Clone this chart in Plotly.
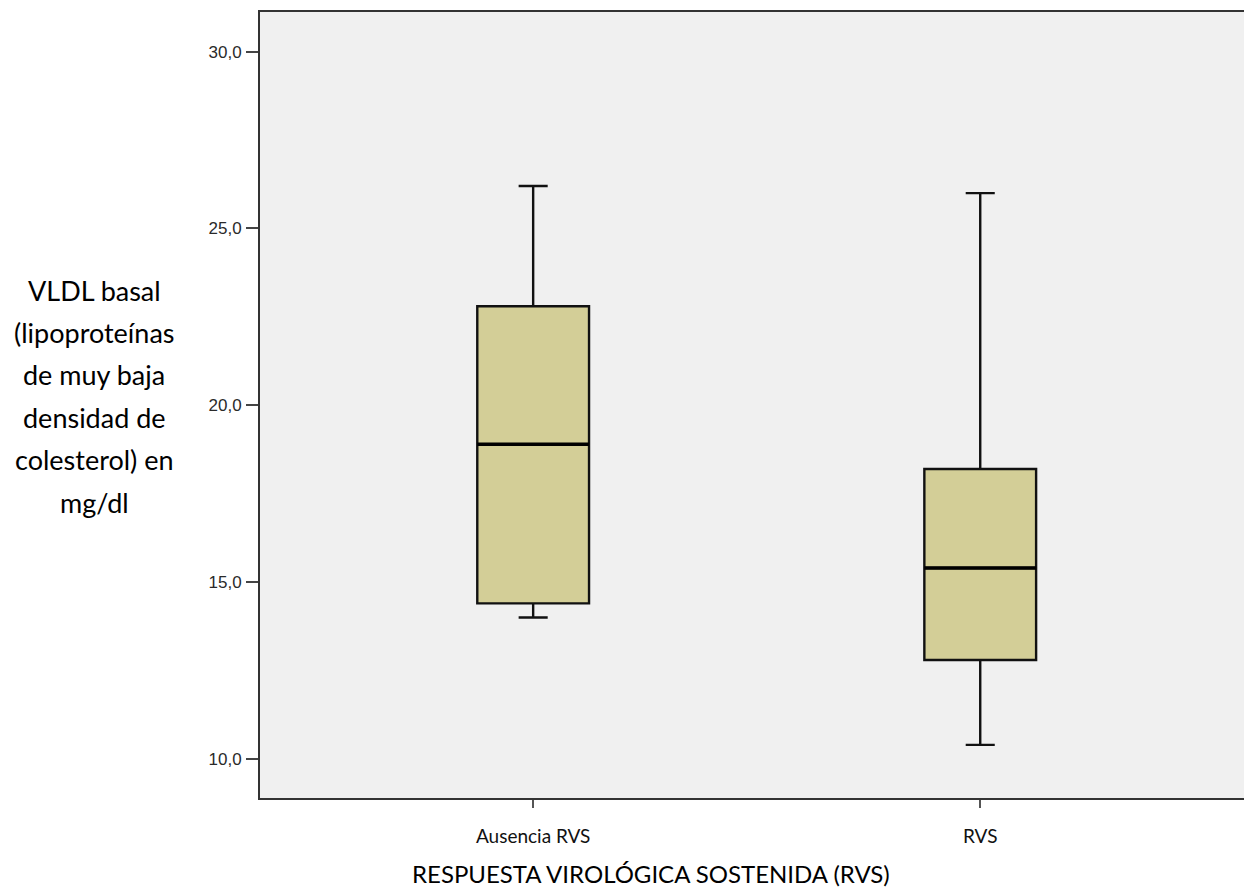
import plotly.graph_objects as go

categories = ["Ausencia RVS", "RVS"]
lowerfence = [14.0, 10.4]
q1 = [14.4, 12.8]
median = [18.9, 15.4]
q3 = [22.8, 18.2]
upperfence = [26.2, 26.0]
y_ticks = [10, 15, 20, 25, 30]
y_title_lines = ["VLDL basal", "(lipoproteínas", "de muy baja", "densidad de", "colesterol) en", "mg/dl"]
x_title = "RESPUESTA VIROLÓGICA SOSTENIDA (RVS)"

BOX_W = 0.25

fig = go.Figure()
fig.add_trace(go.Box(
    x=categories, q1=q1, median=median, q3=q3,
    lowerfence=lowerfence, upperfence=upperfence,
    fillcolor="#D3CE97", line=dict(color="#111111", width=2.4),
    width=BOX_W, whiskerwidth=0.26, boxpoints=False, showlegend=False,
    hoverinfo="y",
))

# thicker median lines
for i, m in enumerate(median):
    fig.add_shape(type="line", xref="x", yref="y",
                  x0=i - BOX_W / 2, x1=i + BOX_W / 2, y0=m, y1=m,
                  line=dict(color="#000000", width=3.5))

W, H = 1244, 887
L, T, B, R = 260, 12, 89, 0

fig.update_layout(
    width=W, height=H,
    margin=dict(l=L, r=R, t=T, b=B),
    paper_bgcolor="white", plot_bgcolor="#F0F0F0",
    separators=",.",
    font=dict(family="Liberation Sans, Arial, sans-serif", color="#222222"),
)
fig.update_xaxes(
    type="category", range=[-0.611, 1.59],
    showline=True, linecolor="#333333", linewidth=2, mirror=True,
    ticks="outside", ticklen=8, tickwidth=2, tickcolor="#555555",
    ticklabelstandoff=12,
    showgrid=False, zeroline=False,
    tickfont=dict(family="Lato, Open Sans, sans-serif", size=19, color="#111111"),
)
fig.update_yaxes(
    range=[8.897, 31.12], tickvals=y_ticks, tickformat=".1f",
    showline=True, linecolor="#333333", linewidth=2, mirror=False,
    ticks="outside", ticklen=12, tickwidth=2, tickcolor="#444444",
    ticklabelstandoff=1,
    showgrid=False, zeroline=False,
    tickfont=dict(family="Liberation Sans, Arial, sans-serif", size=17, color="#2a2a2a"),
)

# y-axis title lines (paper coords, converted from pixel layout)
plot_h = H - T - B
y0_px, dy_px = 290, 42.4
for k, line in enumerate(y_title_lines):
    ypx = y0_px + k * dy_px
    fig.add_annotation(
        text=line, xref="paper", yref="paper",
        x=(94 - L) / (W - L - R), y=1 - (ypx - T) / plot_h,
        xanchor="center", yanchor="middle", showarrow=False,
        font=dict(family="Lato, Open Sans, sans-serif", size=27, color="#000000"),
    )

fig.add_annotation(
    text=x_title, xref="paper", yref="paper",
    x=(651 - L) / (W - L - R), y=1 - (873 - T) / plot_h,
    xanchor="center", yanchor="middle", showarrow=False,
    font=dict(family="Lato, Open Sans, sans-serif", size=24, color="#000000"),
)

fig.write_html("out.html")
